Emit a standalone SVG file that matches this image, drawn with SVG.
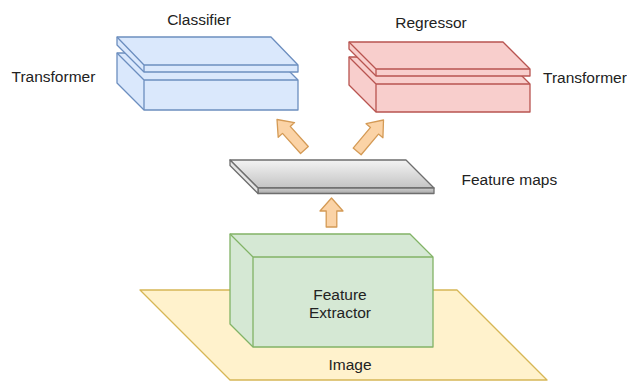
<svg xmlns="http://www.w3.org/2000/svg" width="627" height="381" viewBox="0 0 627 381">
  <style>
    .lbl { font-family: "Liberation Sans", Arial, sans-serif; font-size: 15.5px; fill: #222; }
    .mid { text-anchor: middle; }
    .edge { fill: none; stroke-width: 1.3; stroke-linejoin: round; }
    .blue { fill: #dae8fc; stroke: #6c8ebf; stroke-width: 1.3; stroke-linejoin: round; }
    .red { fill: #f8cecc; stroke: #b85450; stroke-width: 1.3; stroke-linejoin: round; }
    .green { fill: #d5e8d4; stroke: #82b366; stroke-width: 1.3; stroke-linejoin: round; }
    .yellow { fill: #fff2cc; stroke: #d6b656; stroke-width: 1.3; stroke-linejoin: round; }
    .grey { stroke: #6e6e6e; stroke-width: 1.3; stroke-linejoin: round; }
    .arrow { fill: #fbd3a6; stroke: #d49a55; stroke-width: 1.3; stroke-linejoin: round; }
  </style>
  <defs>
    <linearGradient id="greyTop" x1="0" y1="0" x2="0" y2="1">
      <stop offset="0" stop-color="#f3f3f3"/>
      <stop offset="1" stop-color="#c4c4c4"/>
    </linearGradient>
    <linearGradient id="greyFront" x1="0" y1="0" x2="0" y2="1">
      <stop offset="0" stop-color="#cfcfcf"/>
      <stop offset="1" stop-color="#a9a9a9"/>
    </linearGradient>
    <!-- block arrow pointing up, tip at origin -->
    <polygon id="longArrow" points="0,0 11,14 5.2,14 5.2,41 -5.2,41 -5.2,14 -11,14"/>
    <polygon id="shortArrow" points="0,0 11.5,13 5.3,13 5.3,29 -5.3,29 -5.3,13 -11.5,13"/>
  </defs>

  <!-- input image plane -->
  <g id="image">
    <polygon class="yellow" points="140,290 457,290 547,380 230,380"/>
    <text class="lbl mid" x="350" y="370">Image</text>
  </g>

  <!-- feature extractor block -->
  <g id="feature-extractor">
    <polygon class="green" points="230,234 410,234 433,257 433,347 253,347 230,324"/>
    <path class="edge" stroke="#82b366" d="M230,234 L253,257 L433,257 M253,257 L253,347"/>
    <text class="lbl mid" x="340" y="300">Feature</text>
    <text class="lbl mid" x="340" y="317.5">Extractor</text>
  </g>

  <!-- feature maps slab -->
  <g id="feature-maps">
    <polygon class="grey" fill="url(#greyTop)" points="230,160 406,160 434,188 258,188"/>
    <polygon class="grey" fill="url(#greyFront)" points="258,188 434,188 434,193.5 258,193.5"/>
    <polygon class="grey" fill="#e6e6e6" points="230,160 258,188 258,193.5 230,165.5"/>
    <text class="lbl" x="461.5" y="185">Feature maps</text>
  </g>

  <!-- classifier transformer -->
  <g id="classifier">
    <polygon class="blue" points="117,53 271,53 298,80 298,110 144,110 117,83"/>
    <path class="edge" stroke="#6c8ebf" d="M117,53 L144,80 L298,80 M144,80 L144,110"/>
    <polygon class="blue" points="117,37 271,37 298,65 298,72 144,72 117,45"/>
    <path class="edge" stroke="#6c8ebf" d="M117,37 L144,65 L298,65 M144,65 L144,72"/>
    <text class="lbl mid" x="199" y="25">Classifier</text>
    <text class="lbl" x="11.5" y="82">Transformer</text>
  </g>

  <!-- regressor transformer -->
  <g id="regressor">
    <polygon class="red" points="349,57 503,57 530,84 530,112 376,112 349,85"/>
    <path class="edge" stroke="#b85450" d="M349,57 L376,84 L530,84 M376,84 L376,112"/>
    <polygon class="red" points="349,42 503,42 530,69 530,76 376,76 349,49"/>
    <path class="edge" stroke="#b85450" d="M349,42 L376,69 L530,69 M376,69 L376,76"/>
    <text class="lbl mid" x="431" y="28">Regressor</text>
    <text class="lbl" x="543" y="83">Transformer</text>
  </g>

  <!-- connectors -->
  <g id="connectors">
    <use href="#shortArrow" class="arrow" transform="translate(331.5,198)"/>
    <use href="#longArrow" class="arrow" transform="translate(277,119.5) rotate(-42)"/>
    <use href="#longArrow" class="arrow" transform="translate(383.5,120) rotate(40)"/>
  </g>
</svg>
